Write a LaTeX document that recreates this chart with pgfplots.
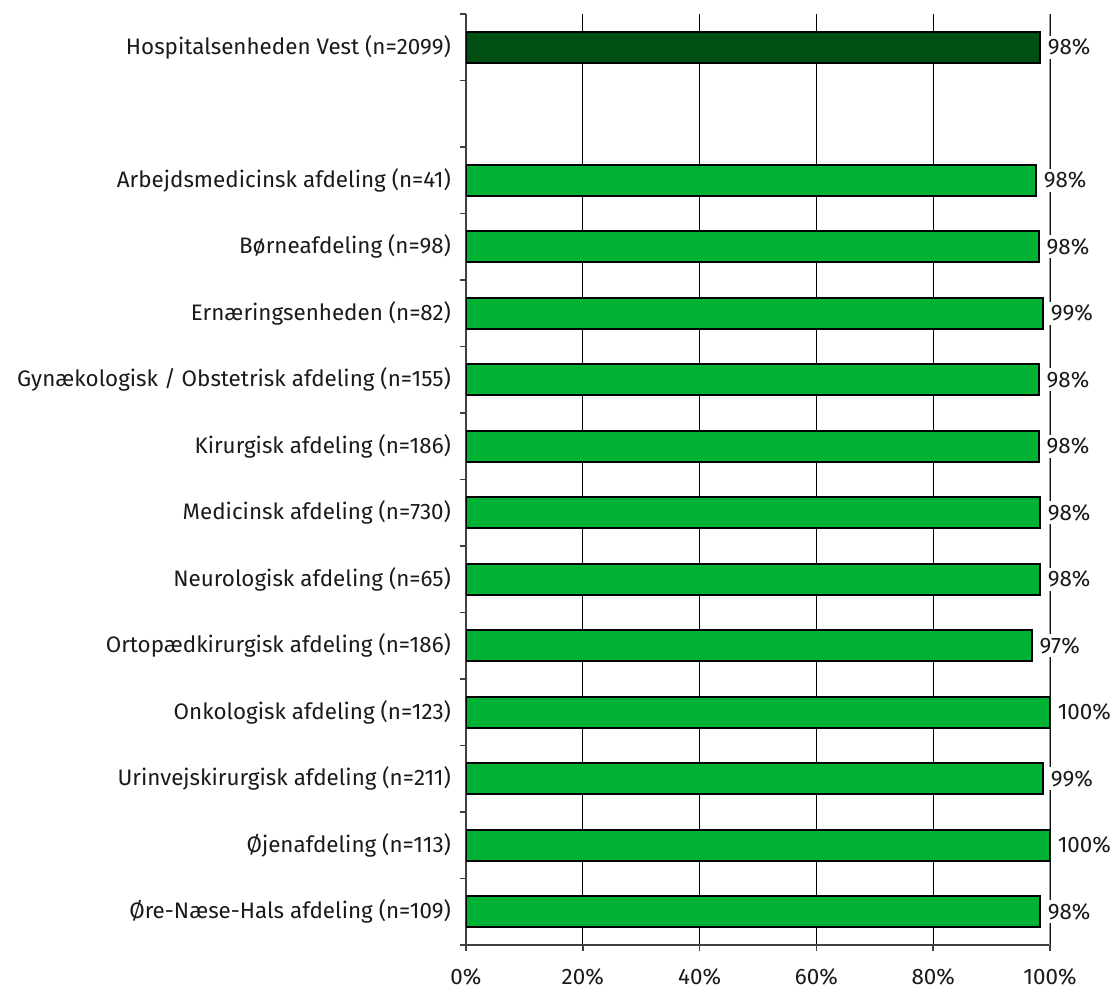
\documentclass[border=0pt]{standalone}
\usepackage{fontspec}
\setmainfont{Fira Sans}
\usepackage{pgfplots}
\pgfplotsset{compat=1.18}
\usetikzlibrary{calc}
\definecolor{dkgreen}{RGB}{0,80,20}
\definecolor{ltgreen}{RGB}{0,178,51}
\definecolor{axgray}{RGB}{64,64,64}
\definecolor{txt}{RGB}{26,26,26}
\begin{document}
\begin{tikzpicture}
\begin{axis}[name=ax, scale only axis, width=292pt, height=465.5pt,
  xbar, xmin=0, xmax=100, ymin=-0.5, ymax=13.5, y dir=reverse,
  axis x line*=bottom, axis y line*=left,
  axis line style={-, draw=axgray, line width=0.8pt},
  /pgf/number format/assume math mode=true,
  xtick={0,20,...,100}, xticklabel={\pgfmathprintnumber{\tick}\%},
  xmajorgrids, x grid style={black, line width=0.5pt},
  ytick={0,2,3,4,5,6,7,8,9,10,11,12,13},
  yticklabels={Hospitalsenheden Vest (n=2099),
    Arbejdsmedicinsk afdeling (n=41),
    Børneafdeling (n=98),
    Ernæringsenheden (n=82),
    Gynækologisk / Obstetrisk afdeling (n=155),
    Kirurgisk afdeling (n=186),
    Medicinsk afdeling (n=730),
    Neurologisk afdeling (n=65),
    Ortopædkirurgisk afdeling (n=186),
    Onkologisk afdeling (n=123),
    Urinvejskirurgisk afdeling (n=211),
    Øjenafdeling (n=113),
    Øre-Næse-Hals afdeling (n=109)},
  minor ytick={-0.5,0.5,...,13.5},
  major y tick style={draw=none},
  minor y tick style={draw=axgray, line width=0.8pt},
  major x tick style={draw=axgray, line width=0.8pt},
  tick align=outside, major tick length=3pt, minor tick length=3pt,
  ticklabel style={font=\fontsize{11.2}{13}\selectfont, text=txt},
  yticklabel style={xshift=-1pt},
  xticklabel style={yshift=-5pt},
  bar width=15.5pt,
  point meta=explicit symbolic,
  nodes near coords={\pgfplotspointmeta\%},
  every node near coord/.append style={font=\fontsize{11.2}{13}\selectfont, text=txt, fill=white, inner sep=1.5pt, anchor=west, xshift=2pt},
]
\draw[gray!80, line width=0.8pt] (axis cs:100,-0.5) -- (axis cs:100,13.5);
\addplot[fill=dkgreen, draw=black, line width=0.8pt, bar shift=0pt] coordinates {(98.3,0) [98]};
\addplot[fill=ltgreen, draw=black, line width=0.8pt, bar shift=0pt] coordinates {
  (97.6,2) [98]
  (98.1,3) [98]
  (98.8,4) [99]
  (98.1,5) [98]
  (98.1,6) [98]
  (98.3,7) [98]
  (98.3,8) [98]
  (96.9,9) [97]
  (100,10) [100]
  (98.8,11) [99]
  (100,12) [100]
  (98.3,13) [98]
};
\end{axis}
\pgfresetboundingbox
\path ($(ax.south west)+(-233pt,-22.5pt)$) rectangle ($(ax.north east)+(32pt,7pt)$);
\end{tikzpicture}
\end{document}
